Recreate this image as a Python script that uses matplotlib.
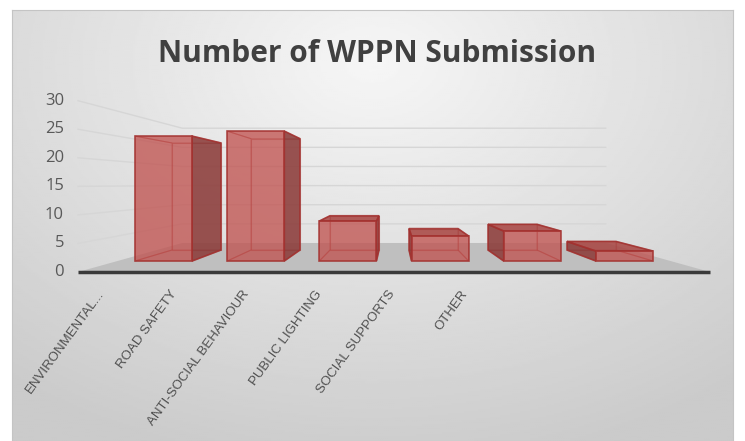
import matplotlib.pyplot as plt
import numpy as np
from matplotlib.patches import Polygon
from matplotlib.transforms import offset_copy

categories = ['ENVIRONMENTAL...', 'ROAD SAFETY', 'ANTI-SOCIAL BEHAVIOUR',
              'PUBLIC LIGHTING', 'SOCIAL SUPPORTS', 'OTHER']
submissions = [25, 26, 8, 5, 6, 2]
value_ticks = [0, 5, 10, 15, 20, 25, 30]
title = 'Number of WPPN Submission'

W, H = 745, 441
fig = plt.figure(figsize=(W / 100, H / 100), dpi=100)

# chart panel: soft radial grey gradient like the Excel style
bg = fig.add_axes([12 / W, 0, 721 / W, 431 / H])
yy, xx = np.mgrid[0:1:220j, 0:1:360j]
r = np.sqrt(((xx - 0.5) / 0.8) ** 2 + ((yy - 0.12) / 0.95) ** 2)
bg.imshow(0.965 - 0.17 * np.clip(r, 0, 1), cmap='gray', vmin=0, vmax=1,
          extent=(0, 1, 0, 1), aspect='auto', origin='upper')
bg.set_xticks([])
bg.set_yticks([])
for s in bg.spines.values():
    s.set_color('#c4c4c4')

# main axes = front plane of the 3d box (x: category index, y: value)
ax = fig.add_axes([78 / W, (H - 272) / H, 632 / W, 171.3 / H])
n = len(categories)
ax.set_xlim(-0.5, n - 0.5)
ax.set_ylim(0, 30)
ax.axis('off')

# simple one-point perspective: k=0 front plane, k>0 goes back toward (VX, VY)
VX, VY = (n - 1) / 2, 15.4
K_WALL = 0.33
K0, K1 = 0.125, 0.25
HW = 0.31


def proj(x, v, k):
    return x + k * (VX - x), v + k * (VY - v)


xl, xr = -0.5, n - 0.5

# floor
floor = [proj(xl, 0, 0), proj(xr, 0, 0), proj(xr, 0, K_WALL), proj(xl, 0, K_WALL)]
ax.add_patch(Polygon(floor, closed=True, fc='#bfbfbf', ec='none', zorder=1, clip_on=False))
ax.plot([xl, xr], [0, 0], color='#3a3a3a', lw=2.5, zorder=2, clip_on=False,
        solid_capstyle='butt')

# gridlines on side wall and back wall
for t in value_ticks[1:]:
    p0, p1, p2 = proj(xl, t, 0), proj(xl, t, K_WALL), proj(xr, t, K_WALL)
    ax.plot([p0[0], p1[0], p2[0]], [p0[1], p1[1], p2[1]], color='#d6d6d6',
            lw=1, zorder=0.5, clip_on=False)

lab_tr = offset_copy(ax.transData, fig, x=-14, y=0, units='dots')
for t in value_ticks:
    ax.text(xl, t, str(t), transform=lab_tr, ha='right', va='center',
            fontsize=12, color='#595959', family='Open Sans')

# bars as transparent boxes
red = '#c0504d'
side = '#8a3a38'
top = '#a84643'
edge = '#a2302e'
for i, h in enumerate(submissions):
    xa, xb = i - HW, i + HW
    f = [proj(xa, 0, K0), proj(xb, 0, K0), proj(xb, h, K0), proj(xa, h, K0)]
    b = [proj(xa, 0, K1), proj(xb, 0, K1), proj(xb, h, K1), proj(xa, h, K1)]
    left = [f[0], b[0], b[3], f[3]]
    right = [f[1], b[1], b[2], f[2]]
    topf = [f[3], f[2], b[2], b[3]]
    bot = [f[0], f[1], b[1], b[0]]
    right_vis = xb < VX
    top_vis = h < VY

    hidden = [b, bot]
    hidden.append(left if right_vis else right)
    if not top_vis:
        hidden.append(topf)
    for poly in hidden:
        ax.add_patch(Polygon(poly, closed=True, fc=red, alpha=0.12, ec='none',
                             zorder=3, clip_on=False))
        ax.add_patch(Polygon(poly, closed=True, fill=False, ec=edge, lw=0.8,
                             alpha=0.45, zorder=3.1, clip_on=False))

    ax.add_patch(Polygon(right if right_vis else left, closed=True, fc=side,
                         alpha=0.85, ec=edge, lw=1.2, zorder=4, clip_on=False))
    if top_vis:
        ax.add_patch(Polygon(topf, closed=True, fc=top, alpha=0.85, ec=edge,
                             lw=1.2, zorder=4, clip_on=False))
    ax.add_patch(Polygon(f, closed=True, fc=red, alpha=0.72, ec=edge, lw=1.3,
                         zorder=5, clip_on=False))

# category labels (Excel packs them tighter than the bars)
for i, cat in enumerate(categories):
    ax.text(-0.32 + 0.69 * i, -2.8, cat, rotation=54, rotation_mode='anchor',
            ha='right', va='top', fontsize=9.5, color='#505050',
            family='Liberation Sans')

fig.text(377.5 / W, 1 - 62 / H, title, ha='center', va='baseline', fontsize=21.5,
         fontweight='bold', color='#404040', family='Open Sans')

fig.savefig('out.png', dpi=100, facecolor='white')
